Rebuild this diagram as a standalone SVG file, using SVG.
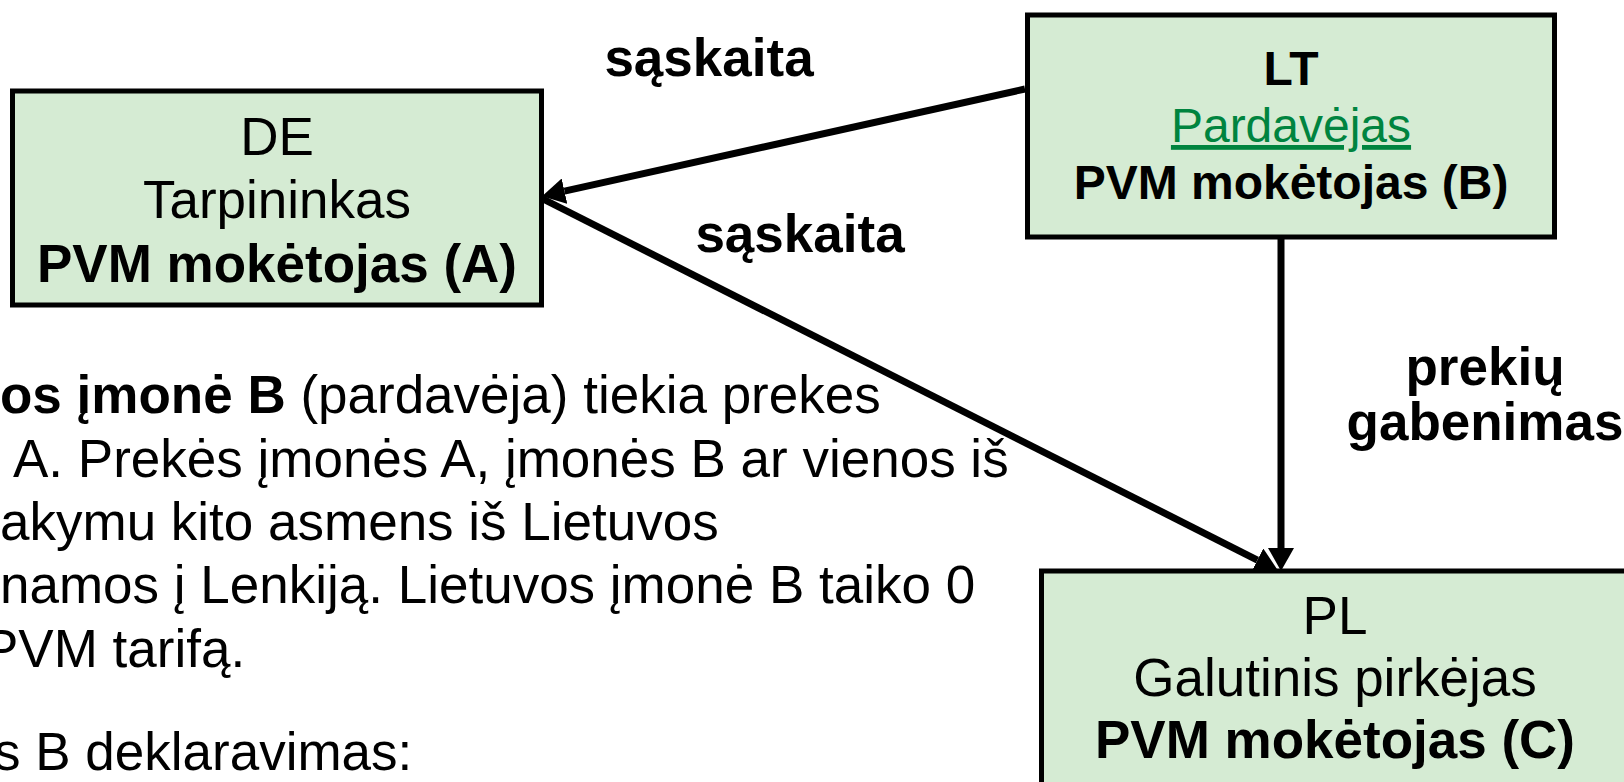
<svg xmlns="http://www.w3.org/2000/svg" width="1624" height="782" viewBox="0 0 1624 782">
<defs>
<style>
.box{fill:#D5EBD3;stroke:#000;stroke-width:5}
.t{font-family:"Liberation Sans",Arial,sans-serif;font-size:53px;fill:#000}
.s{font-size:48px}
.c{text-anchor:middle}
.b{font-weight:bold}
.body{font-family:"Liberation Sans",Arial,sans-serif;font-size:53px;fill:#000}
.link{fill:#00843F;text-decoration:underline}
.conn{stroke:#000;stroke-width:7;fill:none}
</style>
<marker id="ah" markerUnits="userSpaceOnUse" markerWidth="24" markerHeight="26" refX="0" refY="13" orient="auto" viewBox="0 0 24 26">
<path d="M0,0 L23,13 L0,26 z" fill="#000"/>
</marker>
</defs>
<rect width="1624" height="782" fill="#fff"/>
<g id="connectors">
<line class="conn" x1="1025" y1="89" x2="564.5" y2="191.2" marker-end="url(#ah)"/>
<line class="conn" x1="543" y1="199" x2="1257.4" y2="560.1" marker-end="url(#ah)"/>
<line class="conn" x1="1281" y1="238" x2="1281" y2="548" marker-end="url(#ah)"/>
</g>
<g id="node-de">
<rect class="box" x="12.5" y="91" width="529" height="214"/>
<text class="t c" x="277" y="155">DE</text>
<text class="t c" x="277" y="218">Tarpininkas</text>
<text class="t c b" x="277" y="282">PVM mokėtojas (A)</text>
</g>
<g id="node-lt">
<rect class="box" x="1027.5" y="15" width="527" height="222"/>
<text class="t s c b" x="1291" y="85">LT</text>
<text class="t s c link" x="1291" y="142">Pardavėjas</text>
<text class="t s c b" x="1291" y="199">PVM mokėtojas (B)</text>
</g>
<g id="node-pl">
<rect class="box" x="1041.5" y="571" width="600" height="260"/>
<text class="t c" x="1335" y="634">PL</text>
<text class="t c" x="1335" y="696">Galutinis pirkėjas</text>
<text class="t c b" x="1335" y="758">PVM mokėtojas (C)</text>
</g>
<g id="labels">
<text class="t c b" x="709" y="76">sąskaita</text>
<text class="t c b" x="800" y="252">sąskaita</text>
<text class="t c b" x="1485" y="385">prekių</text>
<text class="t c b" x="1485" y="440">gabenimas</text>
</g>
<g id="body-text">
<text class="body" x="0" y="413"><tspan font-weight="bold">os įmonė B</tspan> (pardavėja) tiekia prekes</text>
<text class="body" x="13" y="477">A. Prekės įmonės A, įmonės B ar vienos iš</text>
<text class="body" x="0" y="540">akymu kito asmens iš Lietuvos</text>
<text class="body" x="0" y="603">namos į Lenkiją. Lietuvos įmonė B taiko 0</text>
<text class="body" x="-17" y="667">PVM tarifą.</text>
<text class="body" x="-6" y="770">s B deklaravimas:</text>
</g>
</svg>
